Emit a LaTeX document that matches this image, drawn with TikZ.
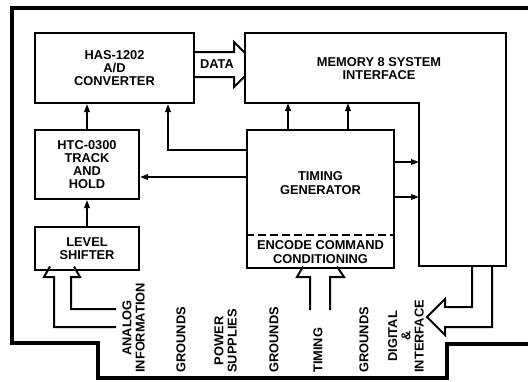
\documentclass[tikz,border=0pt]{standalone}
\usepackage{fontspec}
\setmainfont{Liberation Sans}
\usetikzlibrary{arrows.meta,positioning}
\tikzset{
  blk/.style={rectangle, draw=black, line width=0.4mm, fill=white, align=center,
              font=\fontsize{7.3}{7.5}\selectfont\bfseries, inner sep=0pt},
  txt/.style={align=center, font=\fontsize{7.3}{7.5}\selectfont\bfseries, inner sep=0pt},
  pin/.style={txt, rotate=90, anchor=west},
  sig/.style={-{Triangle[length=1.6mm,width=1.1mm]}, line width=0.35mm},
  fat/.style={line width=0.4mm, line join=miter},
  frame/.style={line width=0.65mm},
}

\begin{document}
\begin{tikzpicture}[x=0.2mm, y=-0.2mm]
\useasboundingbox (0,0) rectangle (528,381);
\draw[frame] (528,8) -- (12,8) -- (12,343) -- (98,343) -- (98,378) -- (447,378) -- (447,344) -- (528,344);

\node[blk, minimum width=31.8mm, minimum height=14mm] (ad) at (114.5,68) {HAS-1202\\A/D\\CONVERTER};
\node[blk, minimum width=20.8mm, minimum height=13.8mm, below=5mm of ad.south west, anchor=north west] (th) {HTC-0300\\TRACK\\AND\\HOLD};
\node[blk, minimum width=20.8mm, minimum height=8.6mm, below=5.2mm of th] (lvl) {LEVEL\\SHIFTER};
\node[blk, minimum width=29.4mm, minimum height=27.6mm, right=21.2mm of th.north east, anchor=north west] (tg) {};

\draw[line width=0.4mm] (245,33) -- (506,33) -- (506,266) -- (419,266) -- (419,103) -- (245,103) -- cycle;
\coordinate (memin) at (419,103);
\node[txt] (memtxt) at (379,68.5) {MEMORY 8 SYSTEM\\INTERFACE};

\node[txt] (tgtxt) at ([yshift=3.2mm]tg.center) {TIMING\\GENERATOR};
\draw[line width=0.4mm, dash pattern=on 1.6mm off 0.8mm] ([yshift=6.8mm]tg.south west) -- ([yshift=6.8mm]tg.south east);
\node[txt] (enctxt) at ([yshift=3.4mm]tg.south) {ENCODE COMMAND\\CONDITIONING};

\draw[sig] (lvl) -- (th);
\draw[sig] (th.north) -- (th.north |- ad.south);
\draw[sig] (tg.west |- 0,150) -| (ad.south -| 168,0);
\draw[sig] (tg.west |- 0,177) -- (th.east |- 0,177);
\draw[sig] (tg.north -| 288,0) -- (memin -| 288,0);
\draw[sig] (tg.north -| 348,0) -- (memin -| 348,0);
\draw[sig] (tg.east |- 0,162) -- (memin |- 0,162);
\draw[sig] (tg.east |- 0,197) -- (memin |- 0,197);

\draw[fat] (ad.east |- 0,52) -- (234,52) -- (234,42) -- (245,53);
\draw[fat] (ad.east |- 0,77) -- (234,77) -- (234,87) -- (245,76);
\node[txt] (data) at (217,64.5) {DATA};

\draw[fat] (116,327) -- (54,327) -- (54,277) -- (44,277) -- (50,266.5);
\draw[fat] (74,266.5) -- (80,277) -- (71,277) -- (71,309) -- (116,309);
\draw[fat] (310,310) -- (310,277) -- (297,277) -- (303,266.5);
\draw[fat] (337,266.5) -- (344,277) -- (330,277) -- (330,310);
\draw[fat] (472,266) -- (472,307) -- (445,307) -- (445,299) -- (427,317) -- (445,335) -- (445,327) -- (492,327) -- (492,266);

\node[pin] (pana) at (133.5,373) {ANALOG\\INFORMATION};
\node[pin] (pgnda) at (181,373) {GROUNDS};
\node[pin] (ppwr) at (225.5,373) {POWER\\SUPPLIES};
\node[pin] (pgndb) at (274,373) {GROUNDS};
\node[pin] (ptim) at (318,373) {TIMING};
\node[pin] (pgndc) at (364,373) {GROUNDS};
\node[pin] (pdig) at (406,373) {DIGITAL\\\&\\INTERFACE};
\end{tikzpicture}
\end{document}
